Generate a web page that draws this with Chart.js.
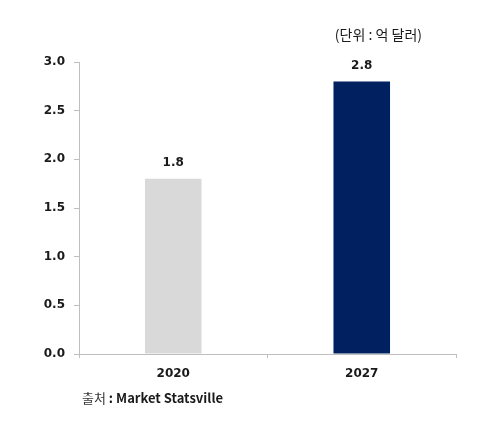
<!DOCTYPE html>
<html>
<head>
<meta charset="utf-8">
<script src="https://cdn.jsdelivr.net/npm/chart.js@4"></script>
<style>
  html, body { margin: 0; padding: 0; background: #fff; }
  #wrap { width: 498px; height: 422px; }
</style>
</head>
<body>
<div id="wrap"><canvas id="myChart"></canvas></div>
<script>
const labels = ['2020', '2027'];
const values = [1.8, 2.8];
const barColors = ['#d9d9d9', '#002060'];
const unitText = '(단위 : 억 달러)';
const sourceLabel = '출처';
const sourceText = ' : Market Statsville';

const axisColor = '#bfbfbf';
const textColor = '#1a1a1a';

// value labels above bars + unit / source notes
const notes = {
    id: 'notes',
    afterDatasetsDraw(chart) {
        const ctx = chart.ctx;
        const area = chart.chartArea;
        ctx.save();
        ctx.fillStyle = textColor;
        ctx.textAlign = 'center';
        ctx.textBaseline = 'middle';
        ctx.font = 'bold 12px "DejaVu Sans"';
        chart.getDatasetMeta(0).data.forEach((bar, i) => {
            ctx.fillText(values[i].toFixed(1), bar.x, bar.y - 16);
        });
        ctx.font = '14px "Noto Sans CJK KR"';
        ctx.textAlign = 'right';
        ctx.fillText(unitText, area.right - 34, 35);
        ctx.textAlign = 'left';
        ctx.font = '13px "Noto Sans CJK KR"';
        ctx.fillStyle = '#333';
        ctx.fillText(sourceLabel, area.left + 3, 398);
        const w = ctx.measureText(sourceLabel).width;
        ctx.font = 'bold 13px "Noto Sans CJK KR"';
        ctx.fillStyle = textColor;
        ctx.fillText(sourceText, area.left + 3 + w, 398);
        ctx.restore();
    }
};

const ctx = document.getElementById('myChart').getContext('2d');
const myChart = new Chart(ctx, {
    type: 'bar',
    data: {
        labels: labels,
        datasets: [{
            data: values,
            backgroundColor: barColors,
            barPercentage: 0.6,
            categoryPercentage: 0.5
        }]
    },
    options: {
        responsive: true,
        maintainAspectRatio: false,
        animation: false,
        layout: { padding: { left: 0, right: 42, top: 62, bottom: 0 } },
        plugins: {
            legend: { display: false },
            tooltip: { enabled: false }
        },
        scales: {
            x: {
                grid: { drawOnChartArea: false, color: axisColor, tickLength: 4, offset: true },
                border: { color: axisColor, width: 1 },
                ticks: {
                    color: textColor,
                    font: { family: 'DejaVu Sans', size: 12, weight: 'bold' },
                    padding: 9
                },
                afterFit(scale) { scale.height = 68; }
            },
            y: {
                min: 0,
                max: 3,
                grid: { drawOnChartArea: false, color: axisColor, tickLength: 5 },
                border: { color: axisColor, width: 1 },
                ticks: {
                    stepSize: 0.5,
                    color: textColor,
                    font: { family: 'DejaVu Sans', size: 12, weight: 'bold' },
                    padding: 9,
                    callback: v => v.toFixed(1)
                },
                afterFit(scale) { scale.width = 79; }
            }
        }
    },
    plugins: [notes]
});
</script>
</body>
</html>
